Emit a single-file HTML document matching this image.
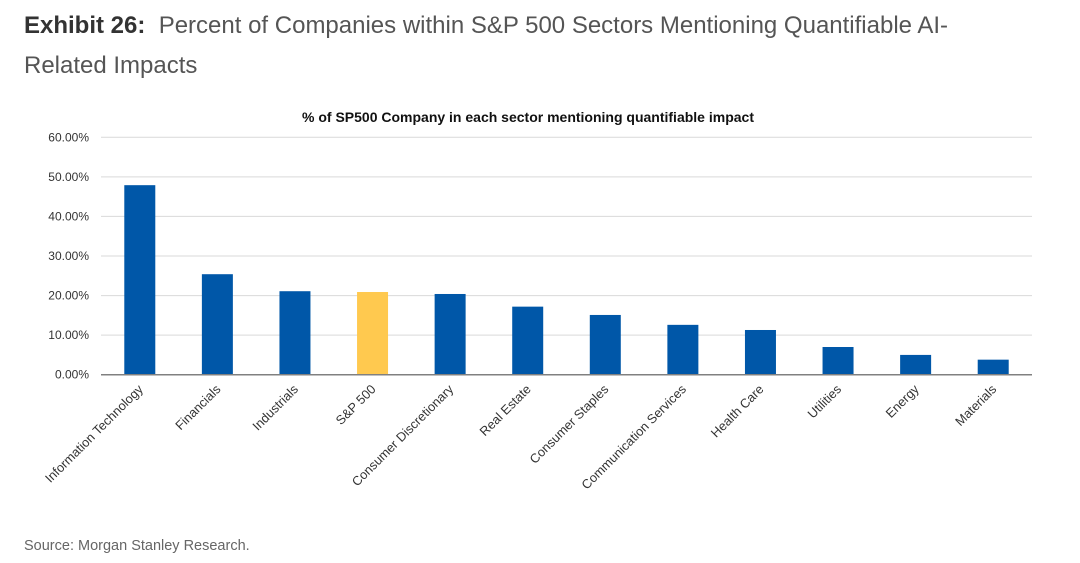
<!DOCTYPE html>
<html><head><meta charset="utf-8"><style>
body{margin:0;background:#fff;width:1080px;height:563px;overflow:hidden;font-family:"Liberation Sans",sans-serif}
#t{position:absolute;left:24px;top:6px;font-size:24px;line-height:40px;color:#555;width:1000px}
#t b{color:#333}
#s{position:absolute;left:24px;top:538px;font-size:14.5px;color:#666}
svg{position:absolute;left:0;top:0}
</style></head><body>
<div id="t"><b>Exhibit 26:</b>&nbsp; Percent of Companies within S&amp;P 500 Sectors Mentioning Quantifiable AI-Related Impacts</div>
<svg id="c" width="1080" height="563">
<text x="528" y="122" text-anchor="middle" font-size="14" font-weight="bold" fill="#111" font-family="'Liberation Sans Narrow','Liberation Sans',sans-serif">% of SP500 Company in each sector mentioning quantifiable impact</text>
</svg>
<div id="s">Source: Morgan Stanley Research.</div>
<script>
const categories=["Information Technology","Financials","Industrials","S&P 500","Consumer Discretionary","Real Estate","Consumer Staples","Communication Services","Health Care","Utilities","Energy","Materials"];
const values=[47.9,25.4,21.1,20.9,20.4,17.2,15.1,12.6,11.3,7.0,5.0,3.8];
const highlight=[false,false,false,true,false,false,false,false,false,false,false,false];
const ticks=[0,10,20,30,40,50,60];
const tickLabels=["0.00%","10.00%","20.00%","30.00%","40.00%","50.00%","60.00%"];
const svg=document.getElementById('c');const NS='http://www.w3.org/2000/svg';
const x0=101,x1=1032,y0=374.7,y1=137.3,ymax=60;
const y=v=>y0-(v/ymax)*(y0-y1);
const step=(x1-x0)/categories.length;
const xc=i=>x0+step*(i+0.5);
const font="'Liberation Sans Narrow','Liberation Sans',sans-serif";
function mk(t,a){const e=document.createElementNS(NS,t);for(const k in a)e.setAttribute(k,a[k]);svg.appendChild(e);return e;}
ticks.forEach((t,i)=>{
 if(t>0){const g=mk('line',{x1:x0,x2:x1,y1:y(t),y2:y(t),stroke:'#d9d9d9','stroke-width':1});
 
 }
 const l=mk('text',{x:89,y:y(t)+4,'text-anchor':'end','font-size':12,fill:'#333','font-family':font});
 l.textContent=tickLabels[i];
 
 
});
values.forEach((v,i)=>{
 const b=mk('rect',{x:xc(i)-15.5,y:y(v),width:31,height:y0-y(v),fill:highlight[i]?'#ffc94f':'#0057a8'});
 
 
 const cx=xc(i)+4,cy=390;
 const l=mk('text',{x:cx,y:cy,'text-anchor':'end','font-size':12.8,fill:'#333','font-family':font,transform:`rotate(-45 ${cx} ${cy})`});
 l.textContent=categories[i];
 
 
});
const ax=mk('line',{x1:x0,x2:x1,y1:y0,y2:y0,stroke:'#808080','stroke-width':1.5});


</script>
</body></html>
